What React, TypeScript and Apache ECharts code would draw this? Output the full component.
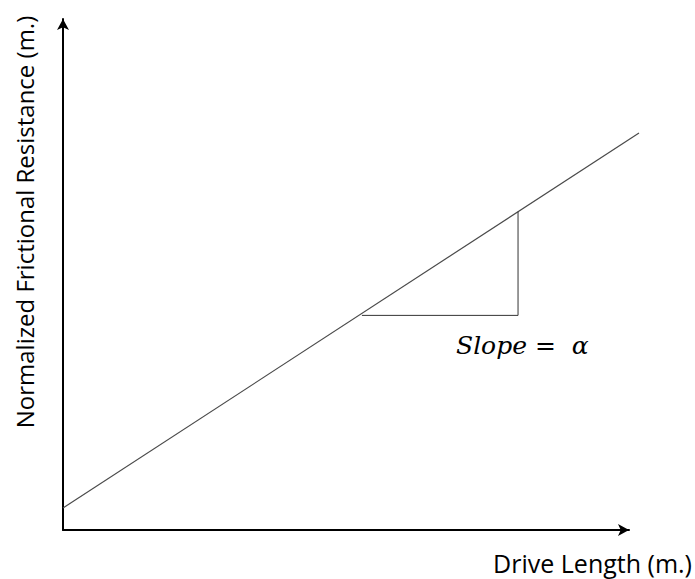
import React, { useEffect, useRef } from "react";
import * as echarts from "echarts";

// Friction line: drive length vs normalized frictional resistance
const driveLength = [0, 100];
const resistance = [4.3, 77.7];

// Slope triangle vertices (run along x, rise along y)
const triangleX = [51.9, 79.0, 79.0];
const triangleY = [42.0, 42.0, 62.3];

const xTitle = "Drive Length (m.)";
const yTitle = "Normalized Frictional Resistance (m.)";
const slopeLabel = "Slope =  α";

export default function App() {
  const ref = useRef<HTMLDivElement>(null);

  useEffect(() => {
    document.body.style.margin = "0";
    if (!ref.current) return;
    const chart = echarts.init(ref.current, undefined, { renderer: "svg" });
    const hiddenAxis = {
      type: "value",
      min: 0,
      max: 100,
      show: false,
    };
    const arrowAxis = {
      type: "value",
      min: 0,
      max: 100,
      axisLine: {
        show: true,
        onZero: false,
        symbol: ["none", "arrow"],
        symbolSize: [9, 11],
        lineStyle: { color: "#000000", width: 2 },
      },
      axisTick: { show: false },
      axisLabel: { show: false },
      splitLine: { show: false },
    };
    chart.setOption({
      animation: false,
      backgroundColor: "#ffffff",
      grid: [
        // visible axes with arrowheads
        { left: 63, right: 66, top: 19, bottom: 49, containLabel: false },
        // plotting area for the friction line and slope triangle
        { left: 63, right: 56, top: 19, bottom: 49, containLabel: false },
      ],
      xAxis: [
        { ...arrowAxis, gridIndex: 0 },
        { ...hiddenAxis, gridIndex: 1 },
      ],
      yAxis: [
        { ...arrowAxis, gridIndex: 0 },
        { ...hiddenAxis, gridIndex: 1 },
      ],
      series: [
        {
          type: "line",
          xAxisIndex: 1,
          yAxisIndex: 1,
          data: driveLength.map((x, i) => [x, resistance[i]]),
          showSymbol: false,
          lineStyle: { color: "#4a4a4a", width: 1.2 },
        },
        {
          type: "line",
          xAxisIndex: 1,
          yAxisIndex: 1,
          data: triangleX.map((x, i) => [x, triangleY[i]]),
          showSymbol: false,
          lineStyle: { color: "#333333", width: 1 },
        },
      ],
      graphic: [
        {
          type: "text",
          x: 24,
          y: 222,
          rotation: Math.PI / 2,
          style: {
            text: yTitle,
            fill: "#000000",
            font: '24px "Open Sans"',
            align: "center",
            verticalAlign: "middle",
          },
        },
        {
          type: "text",
          x: 692,
          y: 563,
          style: {
            text: xTitle,
            fill: "#000000",
            font: '25px "Open Sans"',
            align: "right",
            verticalAlign: "middle",
          },
        },
        {
          type: "text",
          x: 456,
          y: 345,
          style: {
            text: slopeLabel,
            fill: "#000000",
            font: 'italic 25px "DejaVu Serif"',
            align: "left",
            verticalAlign: "middle",
          },
        },
      ],
    });
    return () => chart.dispose();
  }, []);

  return <div ref={ref} style={{ width: 695, height: 579 }} />;
}
